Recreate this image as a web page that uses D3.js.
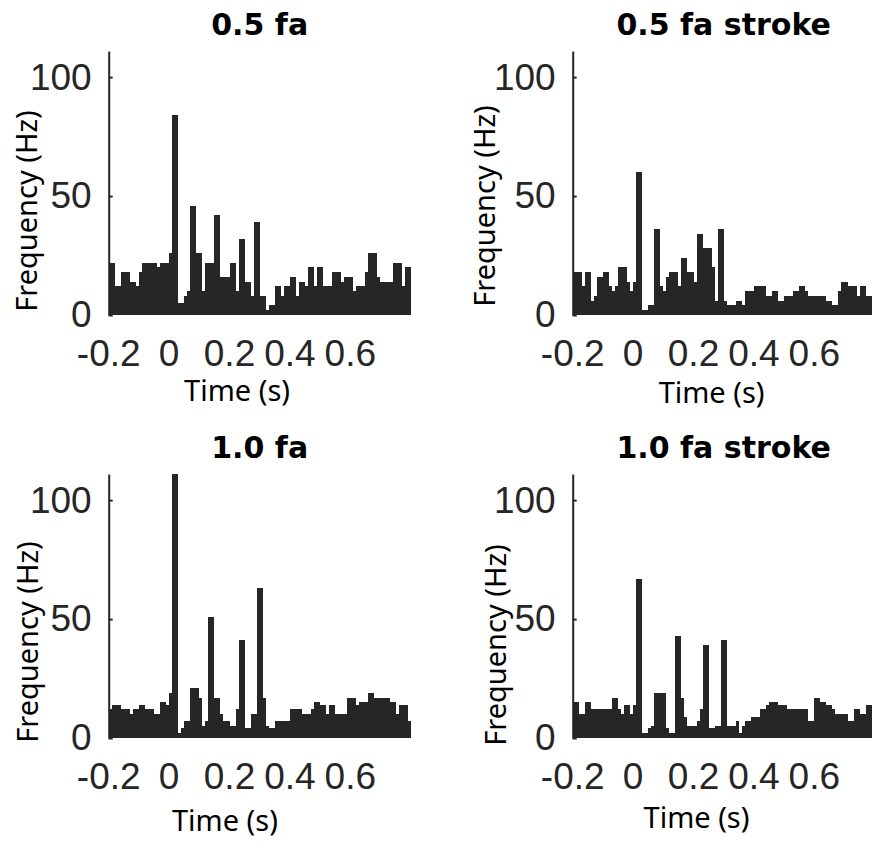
<!DOCTYPE html>
<html>
<head>
  <meta charset="utf-8">
  <script src="https://d3js.org/d3.v7.min.js"></script>
  <title>PSTH</title>
<style>
body { margin: 0; background: #fff; }
svg { display: block; background: #fff; }
.axis path, .axis line { stroke: #262626; stroke-width: 2; }
.axis text { font-family: "Liberation Sans", Arial, sans-serif; font-size: 37px; fill: #262626; }
.title { font-family: "DejaVu Sans", sans-serif; font-weight: bold; font-size: 30px; fill: #000; }
.label { font-family: "Noto Sans", "Open Sans", sans-serif; font-size: 29px; fill: #000; }
</style>
</head>
<body>
<script>
var width = 872,
    height = 842;

// histogram bins: 10 ms wide, starting at -0.2 s
var binStart = -0.2,
    binWidth = 0.01;

var titles = ['0.5 fa', '0.5 fa stroke', '1.0 fa', '1.0 fa stroke'];

// firing rate per bin (Hz)
var rate05fa = [
  22, 22, 12, 12, 18, 18, 18, 14, 14, 12,
  18, 22, 22, 22, 22, 22, 20, 22, 22, 22,
  26, 84, 84, 5, 5, 8, 10, 46, 46, 26,
  26, 10, 22, 22, 22, 42, 42, 16, 16, 16,
  22, 22, 10, 32, 32, 14, 14, 8, 39, 39,
  8, 8, 2, 4, 4, 12, 12, 8, 12, 12,
  16, 16, 8, 14, 14, 12, 20, 20, 12, 20,
  20, 12, 12, 12, 18, 18, 18, 14, 16, 16,
  16, 10, 12, 12, 12, 18, 26, 26, 26, 16,
  14, 14, 14, 14, 22, 22, 22, 12, 20, 20
];
var rate05faStroke = [
  18, 18, 18, 12, 18, 18, 6, 8, 16, 16,
  18, 18, 12, 10, 12, 20, 20, 20, 14, 10,
  14, 60, 60, 2, 2, 4, 4, 36, 36, 12,
  10, 16, 18, 18, 18, 12, 24, 24, 18, 18,
  14, 34, 34, 28, 28, 28, 20, 6, 36, 36,
  6, 4, 4, 4, 6, 6, 4, 10, 10, 10,
  12, 12, 12, 12, 8, 8, 10, 10, 6, 6,
  8, 8, 8, 10, 10, 12, 12, 10, 8, 8,
  8, 8, 8, 8, 6, 6, 4, 4, 10, 14,
  14, 12, 12, 12, 8, 12, 12, 8, 8, 8
];
var rate10fa = [
  12, 14, 14, 14, 12, 12, 12, 10, 12, 12,
  14, 14, 12, 12, 12, 10, 10, 15, 15, 14,
  19, 111, 111, 2, 4, 7, 7, 21, 21, 21,
  17, 5, 7, 51, 51, 17, 17, 10, 7, 7,
  5, 5, 12, 41, 41, 4, 4, 10, 10, 63,
  63, 17, 5, 4, 4, 7, 7, 7, 7, 7,
  12, 12, 12, 12, 10, 10, 10, 12, 15, 15,
  14, 14, 10, 14, 14, 10, 10, 10, 10, 17,
  17, 17, 14, 15, 15, 15, 19, 19, 17, 17,
  17, 17, 17, 15, 15, 10, 14, 14, 14, 7
];
var rate10faStroke = [
  15, 15, 10, 10, 15, 15, 12, 12, 12, 12,
  12, 12, 12, 17, 17, 12, 10, 14, 14, 10,
  14, 67, 67, 2, 2, 4, 5, 19, 19, 19,
  19, 4, 2, 2, 43, 43, 17, 9, 5, 5,
  5, 7, 12, 39, 39, 4, 4, 5, 5, 41,
  41, 5, 5, 5, 7, 2, 5, 7, 7, 9,
  9, 9, 12, 12, 14, 15, 15, 15, 14, 14,
  14, 12, 12, 12, 12, 12, 12, 12, 7, 7,
  17, 17, 15, 15, 14, 14, 12, 10, 10, 10,
  10, 7, 7, 12, 12, 10, 10, 14, 14, 14
];
var series = [rate05fa, rate05faStroke, rate10fa, rate10faStroke];

var xDomain = [-0.2, 0.8];
var xTicks = [-0.2, 0, 0.2, 0.4, 0.6];
var xTickLabels = ['-0.2', '0', '0.2', '0.4', '0.6'];
var yMax = 111;
var yTicks = [0, 50, 100];

// panel placement (pixels) and label placement
var plotW = 302,
    plotH = 264;
var layout = [
  { left: 108.7, top: 51,  xLabelAt: 0.225, xLabelDy: 86, yLabelDx: -83, yLabelDy: -104 },
  { left: 572.7, top: 51,  xLabelAt: 0.26,  xLabelDy: 88, yLabelDx: -89, yLabelDy: -109 },
  { left: 108.7, top: 474, xLabelAt: 0.185, xLabelDy: 93, yLabelDx: -82, yLabelDy: -96 },
  { left: 572.7, top: 474, xLabelAt: 0.21,  xLabelDy: 90, yLabelDx: -78, yLabelDy: -93 }
];

var svg = d3.select('body').append('svg')
  .attr('width', width)
  .attr('height', height);

var x = d3.scaleLinear().domain(xDomain).range([0, plotW]);
var y = d3.scaleLinear().domain([0, yMax]).range([plotH, 0]);

series.forEach(function (vals, p) {
  var L = layout[p];
  var g = svg.append('g')
    .attr('transform', 'translate(' + L.left + ',' + L.top + ')');

  // bars
  g.selectAll('rect')
    .data(vals)
    .enter()
    .append('rect')
    .attr('x', function (d, i) { return x(binStart + i * binWidth); })
    .attr('width', x(binStart + binWidth) - x(binStart))
    .attr('y', function (d) { return y(d); })
    .attr('height', function (d) { return plotH - y(d); })
    .attr('shape-rendering', 'crispEdges')
    .style('fill', '#262626');

  // y axis, ticks pointing inwards
  g.append('g')
    .attr('class', 'axis')
    .call(d3.axisLeft(y)
      .tickValues(yTicks)
      .tickSizeInner(-4)
      .tickSizeOuter(0)
      .tickPadding(17)
      .tickFormat(d3.format('d')));

  // x tick labels only (no x axis line)
  g.append('g')
    .attr('class', 'axis')
    .selectAll('text')
    .data(xTicks)
    .enter()
    .append('text')
    .attr('x', function (d) { return x(d); })
    .attr('y', plotH + 51)
    .attr('text-anchor', 'middle')
    .text(function (d, i) { return xTickLabels[i]; });

  g.append('text')
    .attr('class', 'title')
    .attr('x', plotW / 2)
    .attr('y', -16)
    .attr('text-anchor', 'middle')
    .text(titles[p]);

  g.append('text')
    .attr('class', 'label')
    .attr('x', x(L.xLabelAt))
    .attr('y', plotH + L.xLabelDy)
    .attr('text-anchor', 'middle')
    .text('Time (s)');

  g.append('text')
    .attr('class', 'label')
    .attr('transform', 'translate(' + L.yLabelDx + ',' + (plotH + L.yLabelDy) + ') rotate(-90)')
    .attr('text-anchor', 'middle')
    .attr('dominant-baseline', 'central')
    .text('Frequency (Hz)');
});
</script>
</body>
</html>
